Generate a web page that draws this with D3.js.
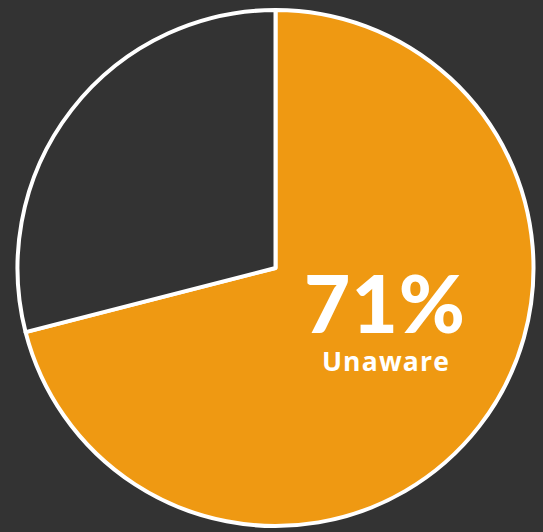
<!DOCTYPE html>
<html><head><meta charset="utf-8">
<script src="https://cdn.jsdelivr.net/npm/d3@7"></script>
<style>html,body{margin:0;padding:0;background:#333333;}svg{display:block;}</style>
</head><body>
<svg id="chart" width="543" height="532"></svg>
<script>
const categories = ["Unaware", "Aware"];
const values = [71, 29];
const colors = ["#EF9912", "#333333"];
const label = "71%";
const sublabel = "Unaware";

const svg = d3.select("#chart");
const cx = 275.5, cy = 268, r = 258;
const g = svg.append("g").attr("transform", `translate(${cx},${cy})`);
const pie = d3.pie().sort(null).value(d => d)(values);
const arc = d3.arc().innerRadius(0).outerRadius(r);
g.selectAll("path").data(pie).join("path")
  .attr("d", arc)
  .attr("fill", (d,i) => colors[i])
  .attr("stroke", "#ffffff")
  .attr("stroke-width", 4)
  .attr("stroke-linejoin", "round");

svg.append("text").attr("x", 385).attr("y", 333)
  .attr("text-anchor", "middle")
  .attr("fill", "#ffffff")
  .style("font-family", "Lato, 'Open Sans', sans-serif")
  .style("font-weight", 900)
  .style("font-size", "80px")
  .style("letter-spacing", "1px")
  .text(label);
svg.append("text").attr("x", 386).attr("y", 371)
  .attr("text-anchor", "middle")
  .attr("fill", "#ffffff")
  .style("font-family", "'Open Sans', Lato, sans-serif")
  .style("font-weight", 700)
  .style("font-size", "26.5px")
  .style("letter-spacing", "1.2px")
  .text(sublabel);
</script>
</body></html>
